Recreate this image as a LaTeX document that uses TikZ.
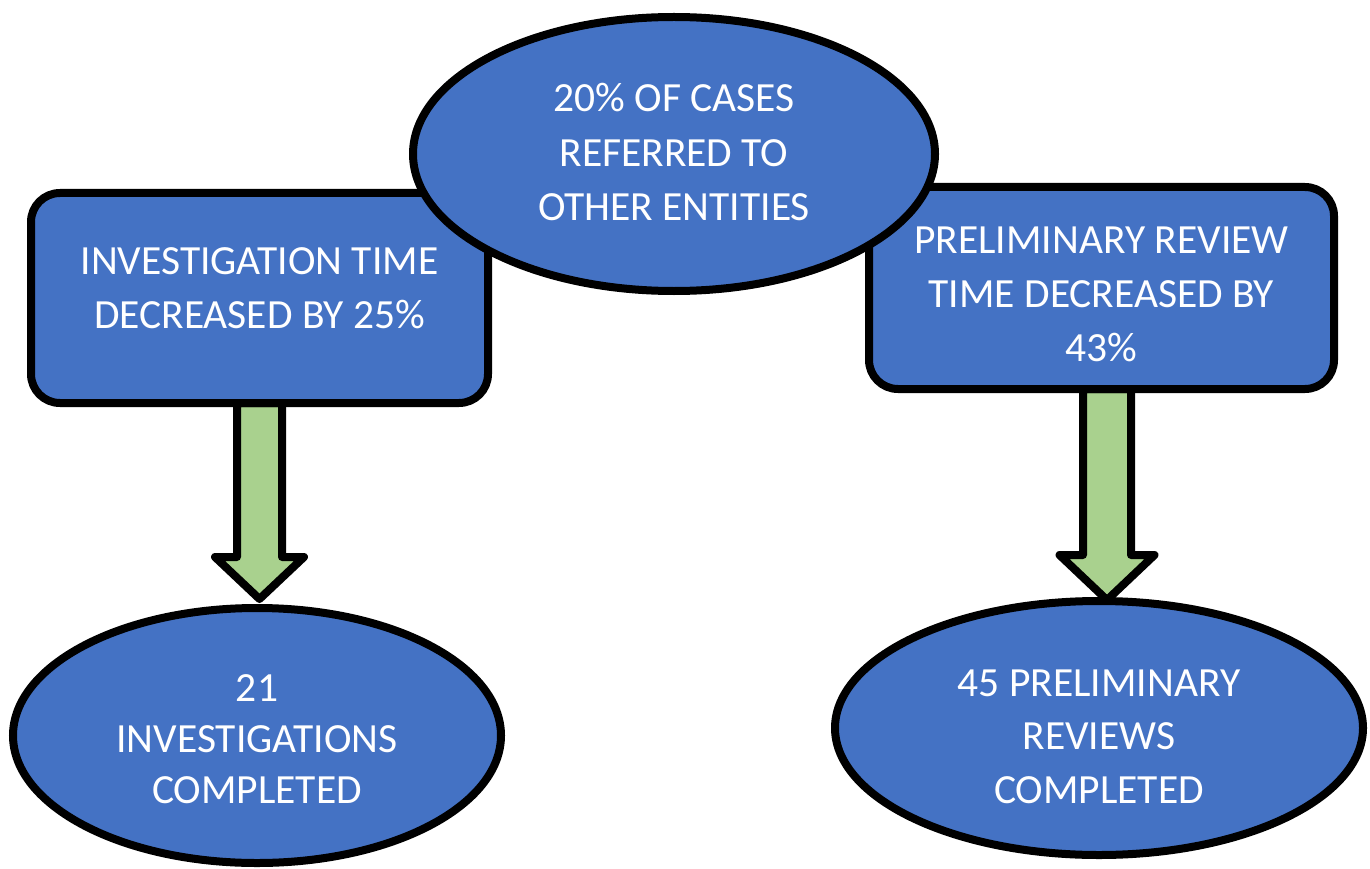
\documentclass[tikz,border=0pt]{standalone}
\usepackage{fontspec}
\setmainfont{Carlito}
\usetikzlibrary{shapes.geometric,calc,backgrounds}
\definecolor{boxblue}{HTML}{4472C4}
\definecolor{arrowgreen}{HTML}{A9D18E}

% block arrow: #1 top of shaft, #2 tip, #3 half shaft width, #4 half head width, #5 head length
\newcommand\greenarrow[5]{%
  \draw[blockarrow] let \p1=(#1), \p2=(#2) in
    (\x1-#3,\y1) -- (\x1-#3,\y2+#5) -- (\x1-#4,\y2+#5) -- (\x1,\y2)
    -- (\x1+#4,\y2+#5) -- (\x1+#3,\y2+#5) -- (\x1+#3,\y1) -- cycle;}

\begin{document}
\begin{tikzpicture}[x=1pt,y=-1pt,
  shapebase/.style={draw=black,line width=8pt,fill=boxblue,text=white,
    inner sep=0pt,outer sep=0pt,align=center,text depth=0pt,
    font=\fontsize{41.5}{54}\selectfont},
  oval/.style={shapebase,ellipse},
  panel/.style={shapebase,rectangle,rounded corners=29pt},
  blockarrow/.style={draw=black,line width=8pt,fill=arrowgreen,line join=round}]

\useasboundingbox (0,0) rectangle (1370,869);

% result panels
\node[panel,minimum width=457pt,minimum height=210pt,text height=60pt] (rL) at (259.5,298)
  {INVESTIGATION TIME\\DECREASED BY 25\%};
\node[panel,minimum width=465pt,minimum height=202pt,text height=146pt] (rR) at (1101.5,288)
  {PRELIMINARY REVIEW\\TIME DECREASED BY\\43\%};

% top oval sits over the panel corners
\node[oval,minimum width=522pt,minimum height=274pt,text height=132pt] (eT) at (674,154)
  {20\% OF CASES\\REFERRED TO\\OTHER ENTITIES};

% outcome ovals
\node[oval,minimum width=488pt,minimum height=255pt,text height=135pt,
  font=\fontsize{41.5}{51}\selectfont] (eL) at (257,735.5)
  {21\\INVESTIGATIONS\\COMPLETED};
\node[oval,minimum width=528pt,minimum height=254pt,text height=150pt,
  font=\fontsize{41.5}{53.5}\selectfont] (eR) at (1099,728)
  {45 PRELIMINARY\\REVIEWS\\COMPLETED};

% arrows from panels down to ovals, behind both
\coordinate (aLtop) at (rL.south);
\coordinate (aLtip) at ($(rL.south |- eL.north)+(0,-9)$);
\coordinate (aRtop) at ($(rR.south)+(5.5,0)$);
\coordinate (aRtip) at ($(aRtop |- eR.north)+(0,-1)$);
\begin{scope}[on background layer]
  \fill[white] (0,0) rectangle (1370,869);
  \greenarrow{aLtop}{aLtip}{22.5pt}{44.5pt}{42pt}
  \greenarrow{aRtop}{aRtip}{24pt}{47.5pt}{45pt}
\end{scope}
\end{tikzpicture}
\end{document}
